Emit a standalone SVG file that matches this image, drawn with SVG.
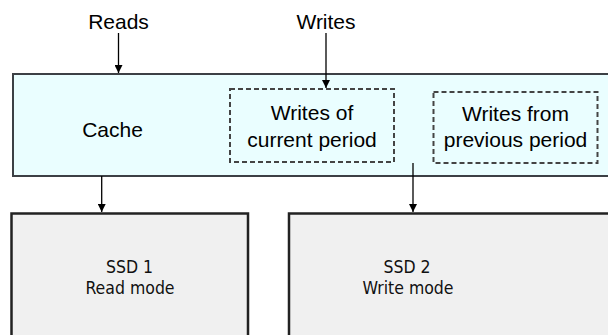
<svg xmlns="http://www.w3.org/2000/svg" width="608" height="335" viewBox="0 0 608 335">
<style>
.lbl{font-family:"Liberation Sans",Arial,Helvetica,sans-serif;font-size:21px;fill:#000;text-anchor:middle}
.ssd{font-family:"DejaVu Sans Condensed","DejaVu Sans",Verdana,sans-serif;font-size:17.5px;fill:#111;text-anchor:middle}
.dash{fill:none;stroke:#444;stroke-width:2;stroke-dasharray:5 3}
.conn{stroke:#000;stroke-width:1.3;fill:none;marker-end:url(#ah)}
</style>
<defs>
<marker id="ah" viewBox="0 0 10 10" refX="10" refY="5" markerWidth="8" markerHeight="8" markerUnits="userSpaceOnUse" orient="auto">
<path d="M0,0 L10,5 L0,10 z" fill="#000"/>
</marker>
</defs>
<rect width="608" height="335" fill="#fff"/>
<g id="cache">
<rect x="13" y="74" width="600" height="102" fill="#eafeff" stroke="#3c4045" stroke-width="2"/>
<text class="lbl" x="112.5" y="137">Cache</text>
</g>
<g id="current">
<rect class="dash" x="230" y="89" width="164" height="73"/>
<text class="lbl" x="312" y="120">Writes of</text>
<text class="lbl" x="312" y="147">current period</text>
</g>
<g id="previous">
<rect class="dash" x="433.5" y="92" width="164" height="71"/>
<text class="lbl" x="515.5" y="120.5">Writes from</text>
<text class="lbl" x="515.5" y="147">previous period</text>
</g>
<g id="reads"><text class="lbl" x="118.5" y="29">Reads</text></g>
<g id="writes"><text class="lbl" x="326" y="29">Writes</text></g>
<g id="ssd1">
<rect x="11.5" y="213.5" width="236.5" height="140" fill="#f0f0f0" stroke="#222" stroke-width="2.5"/>
<text class="ssd" x="129.5" y="273">SSD 1</text>
<text class="ssd" x="130" y="294">Read mode</text>
</g>
<g id="ssd2">
<rect x="289" y="213.5" width="340" height="140" fill="#f0f0f0" stroke="#222" stroke-width="2.5"/>
<text class="ssd" x="407" y="273">SSD 2</text>
<text class="ssd" x="408" y="294">Write mode</text>
</g>
<g id="connectors">
<line class="conn" x1="118.5" y1="33" x2="118.5" y2="73"/>
<line class="conn" x1="326" y1="33" x2="326" y2="88"/>
<line class="conn" x1="101.7" y1="176" x2="101.7" y2="212"/>
<line class="conn" x1="413" y1="163" x2="413" y2="212"/>
</g>
</svg>
